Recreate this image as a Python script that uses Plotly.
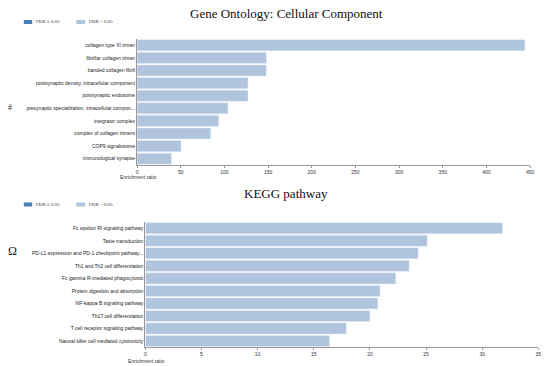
import plotly.graph_objects as go

W, H = 550, 366

go_terms = ["collagen type XI trimer", "fibrillar collagen trimer", "banded collagen fibril",
            "postsynaptic density, intracellular component", "postsynaptic endosome",
            "presynaptic specialization, intracellular compon...", "integrator complex",
            "complex of collagen trimers", "COP9 signalosome", "immunological synapse"]
go_ratio = [444, 148, 148, 127, 127, 104, 93.4, 84.3, 50.3, 39.3]

kegg_terms = ["Fc epsilon RI signaling pathway", "Taste transduction",
              "PD-L1 expression and PD-1 checkpoint pathway...", "Th1 and Th2 cell differentiation",
              "Fc gamma R-mediated phagocytosis", "Protein digestion and absorption",
              "NF-kappa B signaling pathway", "Th17 cell differentiation",
              "T cell receptor signaling pathway", "Natural killer cell mediated cytotoxicity"]
kegg_ratio = [31.8, 25.1, 24.3, 23.5, 22.3, 20.9, 20.7, 20.0, 17.9, 16.4]

go_ticks = [0, 50, 100, 150, 200, 250, 300, 350, 400, 450]
kegg_ticks = [0, 5, 10, 15, 20, 25, 30, 35]

LIGHT = "#B0C4DE"
DARK = "#4682B4"
SANS = "Liberation Sans, Arial, sans-serif"
SERIF = "Liberation Serif, DejaVu Serif, serif"

def px(x):
    return x / W

def py(y):
    return (H - y) / H

fig = go.Figure()
fig.add_trace(go.Bar(x=go_ratio, y=go_terms, orientation="h", marker_color=LIGHT,
                     xaxis="x", yaxis="y", showlegend=False, hoverinfo="x+y"))
fig.add_trace(go.Bar(x=kegg_ratio, y=kegg_terms, orientation="h", marker_color=LIGHT,
                     xaxis="x2", yaxis="y2", showlegend=False, hoverinfo="x+y"))

axis_common = dict(showgrid=False, zeroline=False, showline=True, linecolor="#999999",
                   linewidth=1, ticks="outside", ticklen=2, tickcolor="#999999",
                   tickfont=dict(family=SANS, size=5, color="#333333"))
yaxis_common = dict(showgrid=False, zeroline=False, showline=True, linecolor="#999999",
                    linewidth=1, ticks="", autorange="reversed",
                    tickfont=dict(family=SANS, size=5, color="#222222"))

fig.update_layout(
    width=W, height=H, margin=dict(l=0, r=0, t=0, b=0),
    paper_bgcolor="white", plot_bgcolor="white", bargap=0.12,
    xaxis=dict(domain=[px(137.3), px(534)], range=[0, 450.01], tickvals=go_ticks,
               anchor="y", **axis_common),
    yaxis=dict(domain=[py(165), py(39)], anchor="x", **yaxis_common),
    xaxis2=dict(domain=[px(145.7), px(542.3)], range=[0, 35.001], tickvals=kegg_ticks,
                anchor="y2", **axis_common),
    yaxis2=dict(domain=[py(347.3), py(222)], anchor="x2", **yaxis_common),
)

ann = []
shapes = []
# titles
ann.append(dict(text="Gene Ontology: Cellular Component", x=px(288), y=py(13), xref="paper", yref="paper",
                showarrow=False, xanchor="center", yanchor="middle",
                font=dict(family=SERIF, size=13, color="#111111")))
ann.append(dict(text="KEGG pathway", x=px(288), y=py(193), xref="paper", yref="paper",
                showarrow=False, xanchor="center", yanchor="middle",
                font=dict(family=SERIF, size=13, color="#111111")))
# axis titles
for xx, yy in [(118, 177), (126, 361)]:
    ann.append(dict(text="Enrichment ratio", x=px(xx), y=py(yy), xref="paper", yref="paper",
                    showarrow=False, xanchor="left", yanchor="middle",
                    font=dict(family=SANS, size=5, color="#333333")))
# legends
for ly in [22, 204.5]:
    shapes.append(dict(type="rect", xref="paper", yref="paper", x0=px(23), x1=px(31.5),
                       y0=py(ly + 2), y1=py(ly - 2), fillcolor=DARK, line=dict(width=0)))
    shapes.append(dict(type="rect", xref="paper", yref="paper", x0=px(76), x1=px(85),
                       y0=py(ly + 2), y1=py(ly - 2), fillcolor=LIGHT, line=dict(width=0)))
    ann.append(dict(text="FDR ≤ 0.05", x=px(33), y=py(ly), xref="paper", yref="paper",
                    showarrow=False, xanchor="left", yanchor="middle",
                    font=dict(family=SERIF, size=5, color="#333333")))
    ann.append(dict(text="FDR > 0.05", x=px(86.5), y=py(ly), xref="paper", yref="paper",
                    showarrow=False, xanchor="left", yanchor="middle",
                    font=dict(family=SERIF, size=5, color="#333333")))
# side symbols
ann.append(dict(text="#", x=px(9), y=py(107), xref="paper", yref="paper", showarrow=False,
                xanchor="center", yanchor="middle", font=dict(family=SERIF, size=8, color="#333333")))
ann.append(dict(text="Ω", x=px(12), y=py(251), xref="paper", yref="paper", showarrow=False,
                xanchor="center", yanchor="middle", font=dict(family=SERIF, size=12, color="#222222")))

fig.update_layout(annotations=ann, shapes=shapes)
fig.write_html("out.html", config={"displayModeBar": False},
               post_script="document.body.style.margin='0';")
